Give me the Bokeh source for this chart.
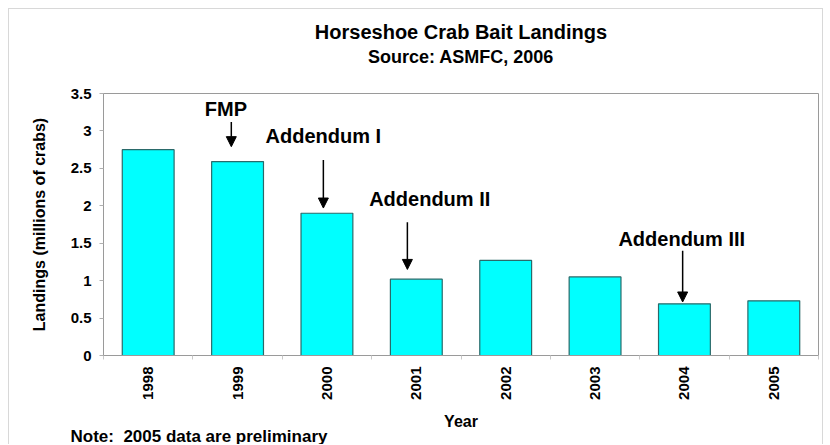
from bokeh.plotting import figure
from bokeh.models import Range1d, FixedTicker, Arrow, NormalHead, Title, ColumnDataSource
from bokeh.core.properties import value
from bokeh.embed import file_html
from bokeh.resources import INLINE
import math

# ---- data ----
years = ["1998", "1999", "2000", "2001", "2002", "2003", "2004", "2005"]
landings = [2.75, 2.59, 1.90, 1.02, 1.27, 1.05, 0.69, 0.73]

# annotations (label, year it points at)
ann_labels = ["FMP", "Addendum I", "Addendum II", "Addendum III"]
ann_years = ["1999", "2000", "2001", "2004"]
ann_text_y = [3.29, 2.93, 2.09, 1.56]
ann_text_dx = [-0.13, -0.04, 0.15, -0.03]
ann_arrow_dx = [-0.07, -0.04, -0.10, -0.02]
ann_arrow_top = [3.12, 2.61, 1.78, 1.40]
ann_arrow_bottom = [2.79, 1.97, 1.15, 0.715]

FONT = "Liberation Sans"

xs = [i + 0.5 for i in range(len(years))]
bounds = [i for i in range(len(years) + 1)]

p = figure(width=815, height=436, output_backend="svg", toolbar_location=None,
           x_range=Range1d(0, len(years)), y_range=Range1d(0, 3.5),
           min_border_left=94, min_border_right=6, min_border_top=84,
           min_border_bottom=90)
p.margin = (8, 7, 0, 8)
p.styles = {"border-top": "1px solid #d8d8d8", "border-left": "1px solid #d8d8d8",
            "border-right": "1px solid #d8d8d8"}
p.background_fill_color = "white"
p.border_fill_color = "white"
p.outline_line_color = "#9a9a9a"
p.outline_line_width = 1
p.xgrid.visible = False
p.ygrid.visible = False

p.vbar(x=xs, top=landings, width=0.58, bottom=0, fill_color="#00FFFF",
       line_color="#2a6a6a", line_width=1.2)

# axes
p.yaxis.ticker = FixedTicker(ticks=[0, 0.5, 1, 1.5, 2, 2.5, 3, 3.5])
p.yaxis.major_label_overrides = {0: "0", 0.5: "0.5", 1: "1", 1.5: "1.5", 2: "2",
                                 2.5: "2.5", 3: "3", 3.5: "3.5"}
p.yaxis.axis_label = "Landings (millions of crabs)"
p.xaxis.ticker = FixedTicker(ticks=xs, minor_ticks=bounds)
p.xaxis.major_label_overrides = {x: y for x, y in zip(xs, years)}
p.xaxis.major_label_orientation = math.pi / 2
p.xaxis.axis_label = "Year"
for ax in (p.xaxis, p.yaxis):
    ax.axis_line_color = "#9a9a9a"
    ax.major_label_text_font = FONT
    ax.major_label_text_font_style = "bold"
    ax.major_label_text_font_size = "15px"
    ax.major_label_text_color = "black"
    ax.axis_label_text_font = FONT
    ax.axis_label_text_font_style = "bold"
    ax.axis_label_text_font_size = "16px"
    ax.axis_label_text_color = "black"
p.yaxis.minor_tick_line_color = None
p.yaxis.major_tick_line_color = "#b0b0b0"
p.yaxis.major_tick_out = 4
p.yaxis.major_tick_in = 0
p.yaxis.major_label_standoff = 8
p.yaxis.axis_label_standoff = 20
p.xaxis.major_tick_line_color = None
p.xaxis.minor_tick_line_color = "#c8c8c8"
p.xaxis.minor_tick_out = 4
p.xaxis.minor_tick_in = 0
p.xaxis.major_label_standoff = 5
p.xaxis.axis_label_standoff = 10

# annotation texts and arrows
idx = {y: i for i, y in enumerate(years)}
tx = [xs[idx[y]] + d for y, d in zip(ann_years, ann_text_dx)]
p.text(x=tx, y=ann_text_y, text=ann_labels, text_align="center",
       text_baseline="alphabetic", text_font=value(FONT), text_font_style="bold",
       text_font_size="20px", text_color="black")
ax_ = [xs[idx[y]] + d for y, d in zip(ann_years, ann_arrow_dx)]
src = ColumnDataSource(dict(x0=ax_, y0=ann_arrow_top, x1=ax_, y1=ann_arrow_bottom))
p.add_layout(Arrow(source=src, x_start="x0", y_start="y0", x_end="x1", y_end="y1",
                   line_color="black", line_width=1.5,
                   end=NormalHead(size=10, fill_color="black", line_color="black")))

# titles and note
p.title.text = "Horseshoe Crab Bait Landings"
p.title.align = "center"
p.title.text_font = FONT
p.title.text_font_style = "bold"
p.title.text_font_size = "20px"
p.title.text_color = "black"
p.title.standoff = 4
p.add_layout(Title(text="\u00a0", align="center", text_font=FONT,
                   text_font_size="1px", standoff=24), "above")
p.add_layout(Title(text="Source: ASMFC, 2006", align="center", text_font=FONT,
                   text_font_style="bold", text_font_size="18px", text_color="black",
                   standoff=0), "above")
p.add_layout(Title(text="Note:\u00a0 2005 data are preliminary", align="left", text_font=FONT,
                   text_font_style="bold", text_font_size="17px", text_color="black",
                   standoff=-12, offset=-33, vertical_align="top"), "below")

open("out.html", "w").write(file_html(p, INLINE))
